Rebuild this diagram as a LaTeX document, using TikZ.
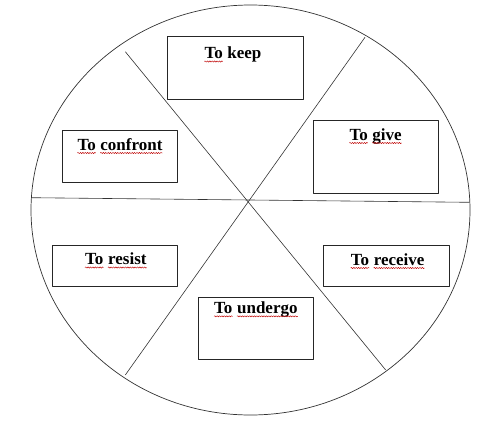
\documentclass[tikz,border=0pt]{standalone}
\usepackage{fontspec}
\setmainfont{Liberation Serif}
\usetikzlibrary{decorations.pathmorphing}
\begin{document}
\begin{tikzpicture}[x=1pt,y=-1pt,line join=round,
  box/.style={draw=black!85,line width=0.9pt,inner sep=0pt,fill=white},
  spoke/.style={draw=black!80,line width=0.6pt},
  lbl/.style={font=\bfseries\fontsize{17}{17}\selectfont,inner sep=0pt,anchor=base west},
  squig/.style={draw=red!75!black,line width=0.45pt,decorate,
    decoration={snake,segment length=2.4pt,amplitude=0.6pt}}]
\useasboundingbox (0,0) rectangle (500,423);
% wheel
\coordinate (c) at (250.5,210);
\draw[draw=black!80,line width=0.7pt] (c) ellipse [x radius=219.5, y radius=205];
\coordinate (hl) at (31.7,197.7);
\coordinate (hr) at (469.3,202.3);
\coordinate (d1a) at (125.3,51.7);
\coordinate (d1b) at (385.7,370);
\coordinate (d2a) at (365,37.3);
\coordinate (d2b) at (125.3,375);
\draw[spoke] (hl) -- (hr);
\draw[spoke] (d1a) -- (d1b);
\draw[spoke] (d2a) -- (d2b);
% boxes
\node[box,minimum width=135.7pt,minimum height=62.3pt] (keep) at (235.2,67.9) {};
\node[box,minimum width=115pt,minimum height=52pt] (confront) at (120.2,156.3) {};
\node[box,minimum width=125pt,minimum height=72.7pt] (give) at (375.8,156.7) {};
\node[box,minimum width=125.4pt,minimum height=41.4pt] (resist) at (115,266) {};
\node[box,minimum width=126pt,minimum height=41.4pt] (receive) at (386.3,266) {};
\node[box,minimum width=115pt,minimum height=62.4pt] (undergo) at (255.8,328.5) {};
% labels
\node[lbl] (keepA) at (204.3,58.5) {To};
\node[lbl] (keepB) at ([xshift=4.25pt]keepA.base east) {keep};
\node[lbl] (confA) at (77.3,150) {To};
\node[lbl] (confB) at ([xshift=4.25pt]confA.base east) {confront};
\node[lbl] (giveA) at (349.3,140) {To};
\node[lbl] (giveB) at ([xshift=4.25pt]giveA.base east) {give};
\node[lbl] (resA) at (85,264.5) {To};
\node[lbl] (resB) at ([xshift=4.25pt]resA.base east) {resist};
\node[lbl] (recA) at (350.7,265) {To};
\node[lbl] (recB) at ([xshift=4.25pt]recA.base east) {receive};
\node[lbl] (undA) at (214,313.3) {To};
\node[lbl] (undB) at ([xshift=4.25pt]undA.base east) {undergo};
% spell-check underlines
\foreach \w in {keepA,confA,confB,giveA,giveB,resA,resB,recA,recB,undA,undB}{
  \draw[squig] ([yshift=-3pt]\w.base west) -- ([yshift=-3pt]\w.base east);
}
\end{tikzpicture}
\end{document}
